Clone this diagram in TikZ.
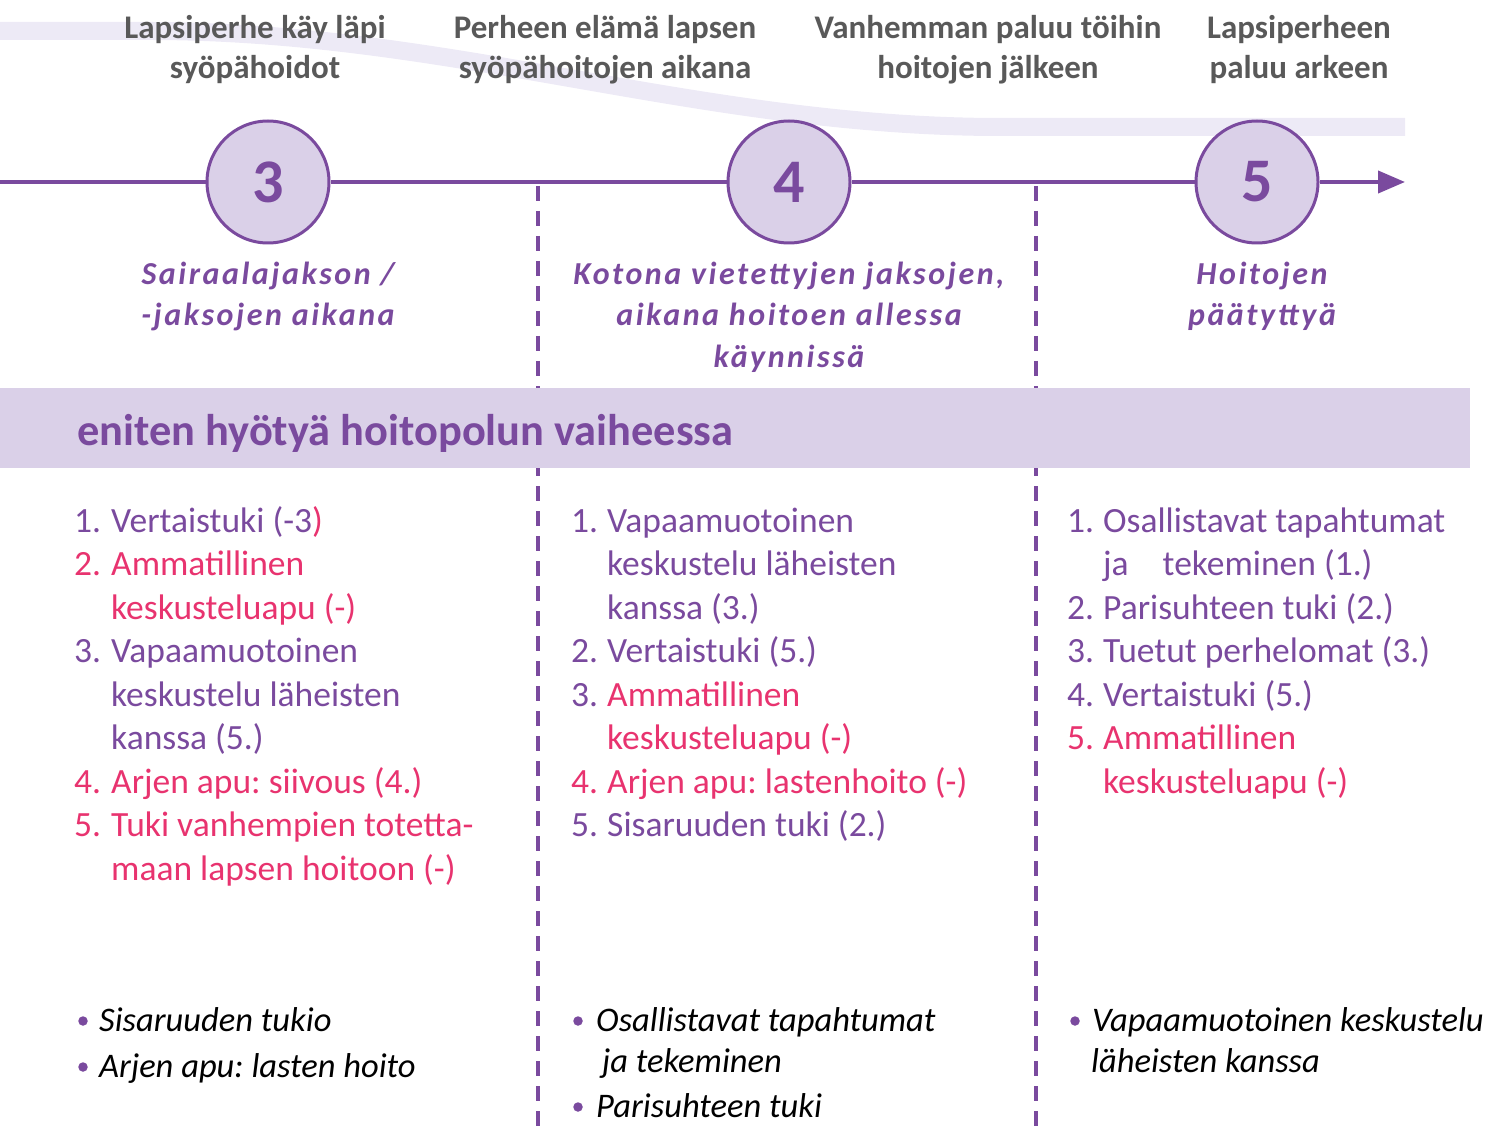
\documentclass[tikz,border=0pt]{standalone}
\usepackage{fontspec}
\setmainfont{Carlito}
\newfontfamily\spacedfont{Carlito}[LetterSpace=8]
\usetikzlibrary{arrows.meta}
\definecolor{pur}{HTML}{7A4A9E}
\definecolor{mypink}{HTML}{E8336F}
\definecolor{lav}{HTML}{DAD0E8}
\definecolor{wavecol}{HTML}{EDEAF6}
\definecolor{gry}{HTML}{595959}
\frenchspacing
\begin{document}
\begin{tikzpicture}[x=1pt,y=-1pt,
  tl/.style={draw=pur,line width=4pt},
  dashline/.style={draw=pur,line width=4pt,dash pattern=on 15pt off 10pt},
  circ/.style={circle,minimum size=122pt,inner sep=0pt,fill=lav,draw=pur,line width=3pt,text=pur,font=\bfseries\fontsize{62}{62}\selectfont},
  hdr/.style={anchor=base,inner sep=0pt,text=gry,font=\bfseries\fontsize{33}{40}\selectfont},
  hit/.style={anchor=base,inner sep=0pt,text=pur,font=\spacedfont\bfseries\itshape\fontsize{32}{41}\selectfont},
  li/.style={anchor=base west,inner sep=0pt,font=\fontsize{35.5}{43}\selectfont},
  bl/.style={anchor=base west,inner sep=0pt,text=black,font=\itshape\fontsize{34.5}{40}\selectfont},
  bul/.style={circle,fill=pur,minimum size=9.5pt,inner sep=0pt}]
\useasboundingbox (0,0) rectangle (1496,1131);
% background wave
\draw[wavecol,line width=18pt] (0,31) -- (150,31) .. controls (450,31) and (700,127) .. (1000,127) -- (1405,127);
% header texts
\node[hdr] (h1a) at (255,39) {Lapsiperhe käy läpi};
\node[hdr] (h1b) at (255,79) {syöpähoidot};
\node[hdr] (h2a) at (605,39) {Perheen elämä lapsen};
\node[hdr] (h2b) at (605,79) {syöpähoitojen aikana};
\node[hdr] (h3a) at (988,39) {Vanhemman paluu töihin};
\node[hdr] (h3b) at (988,79) {hoitojen jälkeen};
\node[hdr] (h4a) at (1299,39) {Lapsiperheen};
\node[hdr] (h4b) at (1299,79) {paluu arkeen};
% dashed separators
\coordinate (d1t) at (538,186); \coordinate (d1b) at (538,1131);
\coordinate (d2t) at (1036,186); \coordinate (d2b) at (1036,1131);
\draw[dashline] (d1t) -- (d1b);
\draw[dashline] (d2t) -- (d2b);
% timeline
\coordinate (t0) at (0,182);
\coordinate (t1) at (1405,182);
\node[circ] (c3) at (268,182) {3};
\node[circ] (c4) at (789,182) {4};
\node[circ] (c5) at (1257,182) {5};
\draw[tl] (t0) -- (c3);
\draw[tl] (c3) -- (c4);
\draw[tl] (c4) -- (c5);
\draw[tl,-{Triangle[length=27pt,width=22pt]}] (c5) -- (t1);
% italic headings
\node[hit] (s1a) at (268,285) {Sairaalajakson /};
\node[hit] (s1b) at (268,326) {-jaksojen aikana};
\node[hit] (s2a) at (789,285) {Kotona vietettyjen jaksojen,};
\node[hit] (s2b) at (789,326) {aikana hoitoen allessa};
\node[hit] (s2c) at (789,367) {käynnissä};
\node[hit] (s3a) at (1262,285) {Hoitojen};
\node[hit] (s3b) at (1262,326) {päätyttyä};
% band
\fill[lav] (0,388) rectangle (1470,468);
\node[anchor=base west,inner sep=0pt,text=pur,font=\bfseries\fontsize{44.4}{50}\selectfont] (band) at (77,445) {eniten hyötyä hoitopolun vaiheessa};
% column 1
\node[li,text=pur] (a1n) at (74,532) {1.};
\node[li,text=pur] (a1t) at (111,532) {Vertaistuki (-3\textcolor{mypink}{)}};
\node[li,text=mypink] (a2n) at (74,575.5) {2.};
\node[li,text=mypink] (a2t) at (111,575.5) {Ammatillinen};
\node[li,text=mypink] (a2u) at (111,619) {keskusteluapu (-)};
\node[li,text=pur] (a3n) at (74,662.5) {3.};
\node[li,text=pur] (a3t) at (111,662.5) {Vapaamuotoinen};
\node[li,text=pur] (a3u) at (111,706) {keskustelu läheisten};
\node[li,text=pur] (a3v) at (111,749.5) {kanssa (5.)};
\node[li,text=mypink] (a4n) at (74,793) {4.};
\node[li,text=mypink] (a4t) at (111,793) {Arjen apu: siivous (4.)};
\node[li,text=mypink] (a5n) at (74,836.5) {5.};
\node[li,text=mypink] (a5t) at (111,836.5) {Tuki vanhempien totetta-};
\node[li,text=mypink] (a5u) at (111,880) {maan lapsen hoitoon (-)};
% column 2
\node[li,text=pur] (b1n) at (571,532) {1.};
\node[li,text=pur] (b1t) at (607,532) {Vapaamuotoinen};
\node[li,text=pur] (b1u) at (607,575.5) {keskustelu läheisten};
\node[li,text=pur] (b1v) at (607,619) {kanssa (3.)};
\node[li,text=pur] (b2n) at (571,662.5) {2.};
\node[li,text=pur] (b2t) at (607,662.5) {Vertaistuki (5.)};
\node[li,text=pur] (b3n) at (571,706) {3.};
\node[li,text=mypink] (b3t) at (607,706) {Ammatillinen};
\node[li,text=mypink] (b3u) at (607,749.5) {keskusteluapu (-)};
\node[li,text=mypink] (b4n) at (571,793) {4.};
\node[li,text=mypink] (b4t) at (607,793) {Arjen apu: lastenhoito (-)};
\node[li,text=pur] (b5n) at (571,836.5) {5.};
\node[li,text=pur] (b5t) at (607,836.5) {Sisaruuden tuki (2.)};
% column 3
\node[li,text=pur] (e1n) at (1067,532) {1.};
\node[li,text=pur] (e1t) at (1103,532) {Osallistavat tapahtumat};
\node[li,text=pur] (e1u) at (1103,575.5) {ja\hspace*{34pt}tekeminen (1.)};
\node[li,text=pur] (e2n) at (1067,619) {2.};
\node[li,text=pur] (e2t) at (1103,619) {Parisuhteen tuki (2.)};
\node[li,text=pur] (e3n) at (1067,662.5) {3.};
\node[li,text=pur] (e3t) at (1103,662.5) {Tuetut perhelomat (3.)};
\node[li,text=pur] (e4n) at (1067,706) {4.};
\node[li,text=pur] (e4t) at (1103,706) {Vertaistuki (5.)};
\node[li,text=mypink] (e5n) at (1067,749.5) {5.};
\node[li,text=mypink] (e5t) at (1103,749.5) {Ammatillinen};
\node[li,text=mypink] (e5u) at (1103,793) {keskusteluapu (-)};
% bottom bullets
\node[bul] (p1) at (83,1021) {};
\node[bl] (q1) at (99,1031) {Sisaruuden tukio};
\node[bul] (p2) at (83,1067) {};
\node[bl] (q2) at (99,1077) {Arjen apu: lasten hoito};
\node[bul] (p3) at (578,1021) {};
\node[bl] (q3) at (596,1031) {Osallistavat tapahtumat};
\node[bl] (q3b) at (602,1072) {ja tekeminen};
\node[bul] (p4) at (578,1107) {};
\node[bl] (q4) at (596,1117) {Parisuhteen tuki};
\node[bul] (p5) at (1075,1021) {};
\node[bl] (q5) at (1092,1031) {Vapaamuotoinen keskustelu};
\node[bl] (q5b) at (1091,1072) {läheisten kanssa};
\end{tikzpicture}
\end{document}
